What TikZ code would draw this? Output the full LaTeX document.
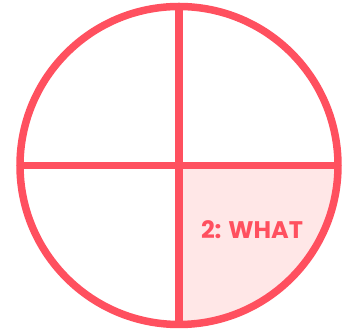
\documentclass[tikz,border=0pt]{standalone}
\usepackage{fontspec}
\setmainfont{Poppins}
\definecolor{ringred}{HTML}{FF505F}
\definecolor{pinkfill}{HTML}{FFE7E7}
\begin{document}
\begin{tikzpicture}[x=1pt,y=1pt,
  ring/.style={draw=ringred,line width=7.5pt},
  label/.style={text=ringred,font=\fontsize{24}{24}\selectfont\bfseries,inner sep=0pt}]
\useasboundingbox (0,0) rectangle (349,331);
\def\R{159}
\coordinate (c) at (179,165.5);
\coordinate (left) at (179-\R,165.5);
\coordinate (right) at (179+\R,165.5);
\coordinate (bottom) at (179,165.5-\R);
\coordinate (top) at (179,165.5+\R);
\fill[pinkfill] (c) -- (right) arc[start angle=0,end angle=-90,radius=\R] -- cycle;
\draw[ring] (c) circle[radius=\R];
\draw[ring] (left) -- (right);
\draw[ring] (bottom) -- (top);
\node[label] (w) at (252,101) {2: WHAT};
\end{tikzpicture}
\end{document}
